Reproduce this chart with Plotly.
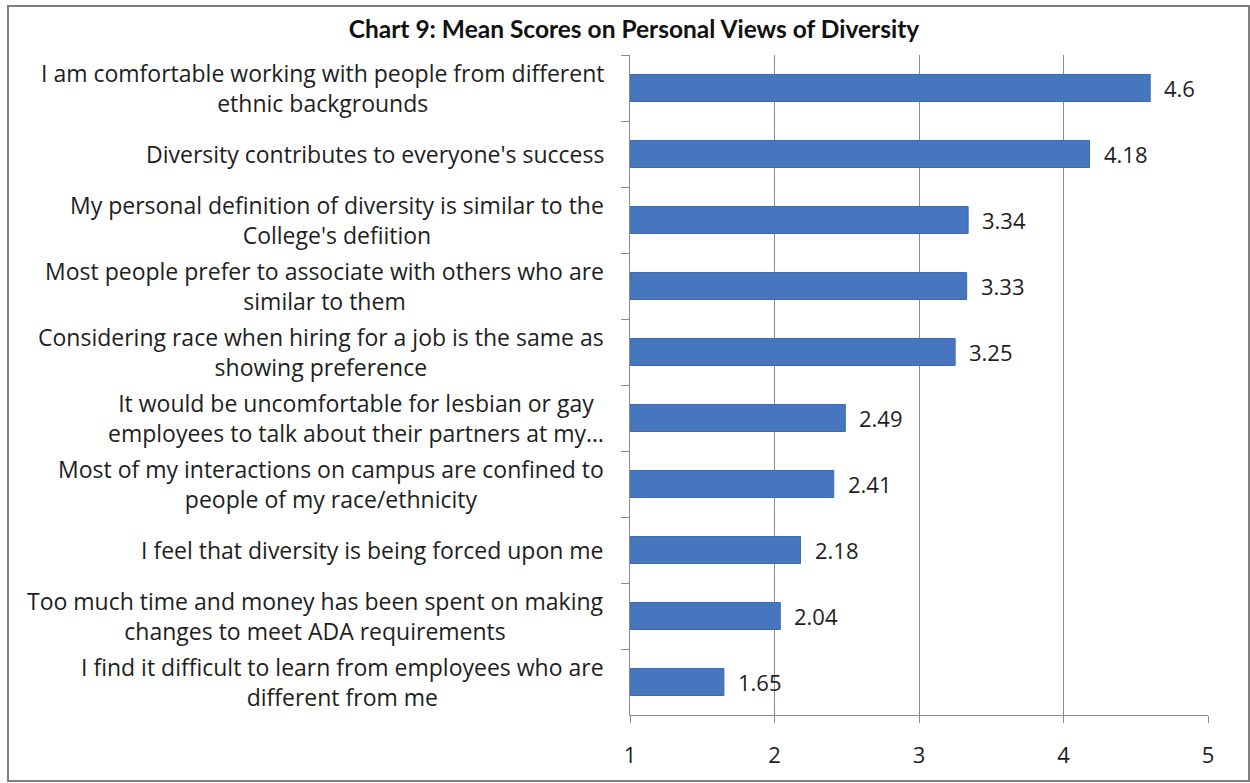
import plotly.graph_objects as go

# Survey statements (wrapped for display) and their mean scores
labels = [
    "I am comfortable working with people from different<br>ethnic backgrounds",
    "Diversity contributes to everyone's success",
    "My personal definition of diversity is similar to the<br>College's defiition",
    "Most people prefer to associate with others who are<br>similar to them",
    "Considering race when hiring for a job is the same as<br>showing preference",
    "It would be uncomfortable for lesbian or gay<br>employees to talk about their partners at my…",
    "Most of my interactions on campus are confined to<br>people of my race/ethnicity",
    "I feel that diversity is being forced upon me",
    "Too much time and money has been spent on making<br>changes to meet ADA requirements",
    "I find it difficult to learn from employees who are<br>different from me",
]
scores = [4.6, 4.18, 3.34, 3.33, 3.25, 2.49, 2.41, 2.18, 2.04, 1.65]
score_text = ["4.6", "4.18", "3.34", "3.33", "3.25", "2.49", "2.41", "2.18", "2.04", "1.65"]
x_ticks = [1, 2, 3, 4, 5]

AXIS_MIN = 1
categories = [lbl.replace("<br>", " ") for lbl in labels]

FONT = "Open Sans, Liberation Sans, sans-serif"
TITLE_FONT = "Lato, Open Sans, sans-serif"
TEXT_COLOR = "#1e1e1e"
GRID = "#8c8c8c"

fig = go.Figure(
    go.Bar(
        y=categories,
        x=[s - AXIS_MIN for s in scores],
        base=AXIS_MIN,
        orientation="h",
        width=0.41,
        marker=dict(color="#4677be", line=dict(color="#3d6aab", width=1)),
        hoverinfo="skip",
    )
)

# Value labels just past the end of each bar
for cat, s, t in zip(categories, scores, score_text):
    fig.add_annotation(
        x=s, xref="x", xanchor="left", xshift=12,
        y=cat, yref="y", yanchor="middle",
        text=t, showarrow=False,
        font=dict(family=FONT, size=22, color=TEXT_COLOR),
    )

# Centre-aligned, wrapped category labels to the left of the plot area
for cat, lbl in zip(categories, labels):
    fig.add_annotation(
        x=0, xref="paper", xanchor="right", xshift=-24,
        y=cat, yref="y", yanchor="middle",
        text=lbl, align="center", showarrow=False,
        font=dict(family=FONT, size=23, color=TEXT_COLOR),
    )

# Outer chart frame
L, R, T, B = 630, 42, 55, 68
W, H = 1250, 783
pw, ph = W - L - R, H - T - B
fig.add_shape(
    type="rect", xref="paper", yref="paper",
    x0=(8 - L) / pw, x1=(1249 - L) / pw,
    y0=(H - B - 781) / ph, y1=(H - B - 6) / ph,
    line=dict(color="#7f7f7f", width=2), fillcolor="rgba(0,0,0,0)", layer="below",
)

fig.update_layout(
    width=W, height=H,
    margin=dict(l=L, r=R, t=T, b=B),
    paper_bgcolor="white", plot_bgcolor="white",
    showlegend=False,
    title=dict(
        text="<b>Chart 9: Mean Scores on Personal Views of Diversity</b>",
        x=(634) / W, xanchor="center", y=1 - 29 / H, yanchor="middle",
        font=dict(family=TITLE_FONT, size=24.5, color="#111111"),
    ),
    xaxis=dict(
        range=[1, 5], tickvals=x_ticks, ticktext=[str(t) for t in x_ticks],
        showgrid=True, gridcolor=GRID, gridwidth=1,
        showline=True, linecolor=GRID, linewidth=1,
        ticks="outside", ticklen=7, tickcolor=GRID,
        ticklabelstandoff=14,
        zeroline=False,
        tickfont=dict(family=FONT, size=22, color=TEXT_COLOR),
        fixedrange=True,
    ),
    yaxis=dict(
        type="category", categoryorder="array", categoryarray=categories,
        autorange="reversed",
        showticklabels=False, tickson="boundaries",
        ticks="outside", ticklen=8, tickcolor=GRID,
        showline=True, linecolor=GRID, linewidth=1,
        showgrid=False, zeroline=False,
        fixedrange=True,
    ),
)

fig.write_html("out.html")
